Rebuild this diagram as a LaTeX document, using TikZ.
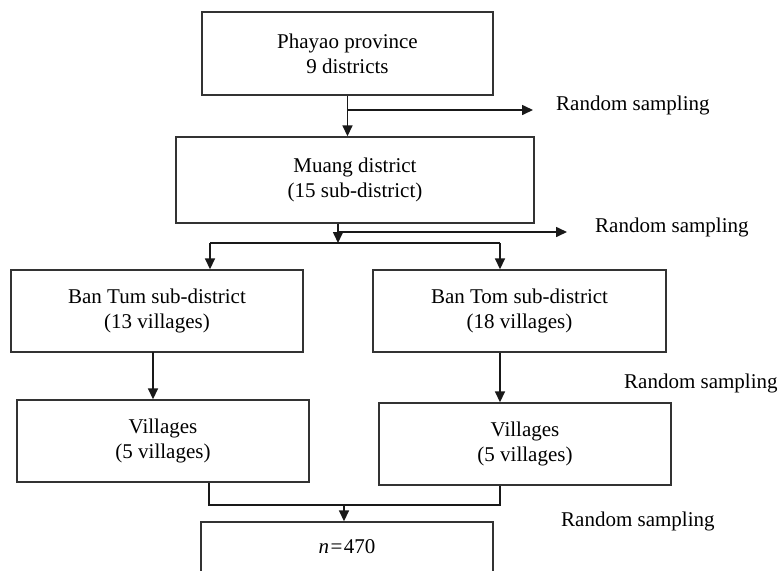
\documentclass[tikz,border=0pt]{standalone}
\usepackage{fontspec}
\setmainfont{Liberation Serif}
\usetikzlibrary{arrows.meta,positioning}

\begin{document}
\begin{tikzpicture}[x=1pt,y=-1pt,
    box/.style={draw=black!80,line width=1.4pt,align=center,inner sep=0pt,
      minimum width=292pt,minimum height=82pt},
    note/.style={anchor=west,inner sep=0pt},
    line/.style={draw=black!90,line width=1.6pt},
    >={Triangle[length=11pt,width=10pt]},
    font=\fontsize{21}{25}\selectfont]
  \useasboundingbox (0,0) rectangle (781,570);

  \node[box,minimum width=291pt,minimum height=83pt] (prov) at (347.5,53.5)
    {Phayao province\\9 districts};
  \node[box,minimum width=358pt,minimum height=86pt] (dist) at (355,180)
    {Muang district\\(15 sub-district)};
  \node[box] (sub_1) at (157,311) {Ban Tum sub-district\\(13 villages)};
  \node[box,minimum width=293pt] (sub_2) at (519.5,311) {Ban Tom sub-district\\(18 villages)};
  \node[box] (vil_1) at (163,441) {Villages\\(5 villages)};
  \node[box] (vil_2) at (525,444) {Villages\\(5 villages)};
  \node[box,minimum height=50pt] (smp) at (347,547) {\textit{n}\kern1.5pt=\kern1.5pt470};

  \node[note] (rs_1) at (556,105) {Random sampling};
  \node[note] (rs_2) at (595,227) {Random sampling};
  \node[note] (rs_3) at (624,383) {Random sampling};
  \node[note] (rs_4) at (561,521) {Random sampling};

  \coordinate (s_1) at (533,110);
  \coordinate (s_2) at (567,232);
  \coordinate (j_0) at (338,243);
  \coordinate (j_L) at (210,243);
  \coordinate (j_R) at (500,243);
  \coordinate (v_L) at (153,352);
  \coordinate (m_L) at (209,505);
  \coordinate (m_R) at (500,505);
  \coordinate (m_C) at (344,505);

  \draw[line,->] (prov.south) -- (prov.south |- dist.north);
  \draw[line,->] (prov.south |- s_1) -- (s_1);
  \draw[line,->] (j_0 |- dist.south) -- (j_0);
  \draw[line,->] (j_0 |- s_2) -- (s_2);
  \draw[line] (j_L) -- (j_R);
  \draw[line,->] (j_L) -- (j_L |- sub_1.north);
  \draw[line,->] (j_R) -- (j_R |- sub_2.north);
  \draw[line,->] (v_L) -- (v_L |- vil_1.north);
  \draw[line,->] (j_R |- sub_2.south) -- (j_R |- vil_2.north);
  \draw[line] (m_L |- vil_1.south) -- (m_L) -- (m_R) -- (m_R |- vil_2.south);
  \draw[line,->] (m_C) -- (m_C |- smp.north);
\end{tikzpicture}
\end{document}
